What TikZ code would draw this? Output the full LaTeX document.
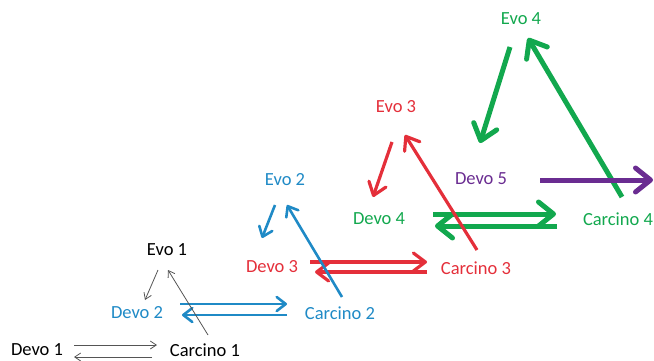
\documentclass[tikz,border=0pt]{standalone}
\usepackage{fontspec}
\setmainfont{Carlito}
\usetikzlibrary{arrows.meta}
\definecolor{cgray}{HTML}{555555}
\definecolor{cblue}{HTML}{1F8AC6}
\definecolor{cred}{HTML}{E42F3A}
\definecolor{cgreen}{HTML}{12A84E}
\definecolor{cpurple}{HTML}{6A2C91}
\tikzset{
  lbl/.style={inner sep=0pt, font=\fontsize{18.5}{22}\selectfont},
  thinarr/.style={draw=cgray, line width=0.8pt, -{Straight Barb[length=6pt,width=8pt]}},
  bluearr/.style={draw=cblue, line width=2.6pt, -{Straight Barb[round,length=9pt,width=14pt]}},
  redarr/.style={draw=cred, line width=3.2pt, -{Straight Barb[round,length=12pt,width=18pt]}},
  greenarr/.style={draw=cgreen, line width=5pt, -{Straight Barb[round,length=15pt,width=24pt]}},
  purplearr/.style={draw=cpurple, line width=5pt, -{Straight Barb[round,length=15pt,width=24pt]}},
}
\begin{document}
\begin{tikzpicture}[x=1pt,y=-1pt]
\useasboundingbox (0,0) rectangle (654,361);

% labels
\node[lbl] (d1) at (37,350) {Devo 1};
\node[lbl] (c1) at (205,350) {Carcino 1};
\node[lbl] (e1) at (167,250) {Evo 1};
\node[lbl, text=cblue] (d2) at (137,313) {Devo 2};
\node[lbl, text=cblue] (c2) at (340,313) {Carcino 2};
\node[lbl, text=cblue] (e2) at (285,180) {Evo 2};
\node[lbl, text=cred] (d3) at (272,267) {Devo 3};
\node[lbl, text=cred] (c3) at (476,268) {Carcino 3};
\node[lbl, text=cred] (e3) at (396,107) {Evo 3};
\node[lbl, text=cgreen] (d4) at (379,219) {Devo 4};
\node[lbl, text=cgreen] (c4) at (618,219) {Carcino 4};
\node[lbl, text=cgreen] (e4) at (521,19) {Evo 4};
\node[lbl, text=cpurple] (d5) at (481,179) {Devo 5};

% arrow end points
\coordinate (g1a) at (74,345);  \coordinate (g1b) at (157,345);
\coordinate (g2a) at (152,357); \coordinate (g2b) at (74,357);
\coordinate (g3a) at (158,270); \coordinate (g3b) at (145,300);
\coordinate (g4a) at (208,335); \coordinate (g4b) at (168,270);

\coordinate (b1a) at (180,304); \coordinate (b1b) at (287,304);
\coordinate (b2a) at (287,315); \coordinate (b2b) at (182,315);
\coordinate (b3a) at (275,205); \coordinate (b3b) at (262,238);
\coordinate (b4a) at (342,297); \coordinate (b4b) at (287,205);

\coordinate (r1a) at (310,262); \coordinate (r1b) at (427,262);
\coordinate (r2a) at (427,272); \coordinate (r2b) at (315,272);
\coordinate (r3a) at (392,142); \coordinate (r3b) at (373,197);
\coordinate (r4a) at (477,250); \coordinate (r4b) at (405,135);

\coordinate (n1a) at (433,214); \coordinate (n1b) at (556,214);
\coordinate (n2a) at (557,226); \coordinate (n2b) at (435,226);
\coordinate (n3a) at (510,47);  \coordinate (n3b) at (480,143);
\coordinate (n4a) at (622,197); \coordinate (n4b) at (528,38);

\coordinate (p1a) at (540,180); \coordinate (p1b) at (653,180);

% green cycle
\draw[greenarr] (n1a) -- (n1b);
\draw[greenarr] (n2a) -- (n2b);
\draw[greenarr] (n3a) -- (n3b);
\draw[greenarr] (n4a) -- (n4b);

% red cycle
\draw[redarr] (r1a) -- (r1b);
\draw[redarr] (r2a) -- (r2b);
\draw[redarr] (r3a) -- (r3b);
\draw[redarr] (r4a) -- (r4b);

% blue cycle
\draw[bluearr] (b1a) -- (b1b);
\draw[bluearr] (b2a) -- (b2b);
\draw[bluearr] (b3a) -- (b3b);
\draw[bluearr] (b4a) -- (b4b);

% purple
\draw[purplearr] (p1a) -- (p1b);

% first cycle
\draw[thinarr] (g1a) -- (g1b);
\draw[thinarr] (g2a) -- (g2b);
\draw[thinarr] (g3a) -- (g3b);
\draw[thinarr] (g4a) -- (g4b);
\end{tikzpicture}
\end{document}
